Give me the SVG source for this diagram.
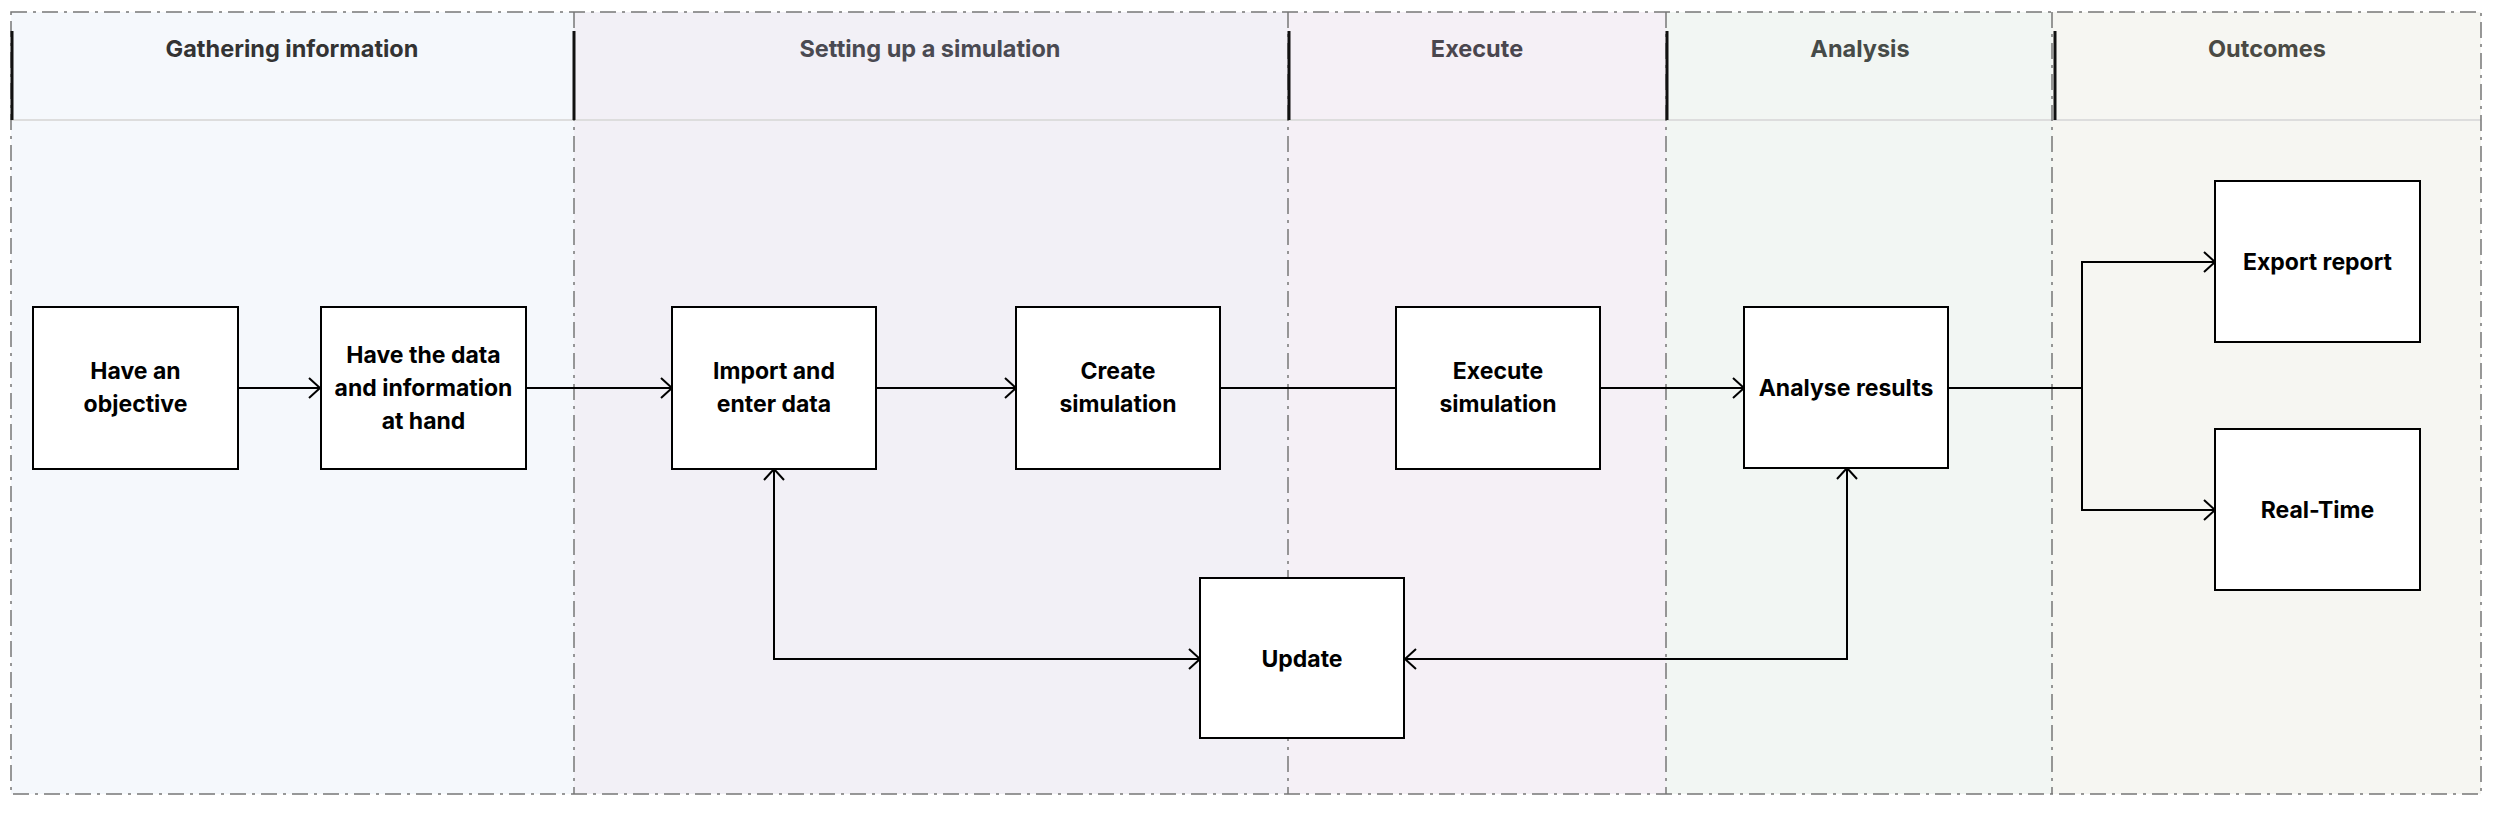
<svg xmlns="http://www.w3.org/2000/svg" width="2500" height="814" viewBox="0 0 2500 814">
<defs>
<style>
.lane-h{font-family:Inter,"Open Sans","Liberation Sans",sans-serif;font-size:23.5px;font-weight:700;text-anchor:middle;dominant-baseline:central}
.box{fill:#fff;stroke:#000;stroke-width:2}
.lbl{font-family:Inter,"Open Sans","Liberation Sans",sans-serif;font-size:23px;font-weight:700;fill:#000;text-anchor:middle;dominant-baseline:central}
.div{stroke:#777;stroke-width:1.5;fill:none;stroke-dasharray:16 6 3 6}
.bar{stroke:#111;stroke-width:3}
.conn{stroke:#000;stroke-width:2;fill:none}
</style>
<marker id="arr" markerUnits="userSpaceOnUse" markerWidth="16" markerHeight="22" refX="13" refY="11" orient="auto-start-reverse">
<path d="M2,1 L13,11 L2,21" fill="none" stroke="#000" stroke-width="2"/>
</marker>
</defs>
<rect width="2500" height="814" fill="#fff"/>
<g id="lanes">
<rect x="11" y="12" width="563" height="782" fill="#f5f8fc"/>
<rect x="574" y="12" width="714" height="782" fill="#f2f0f6"/>
<rect x="1288" y="12" width="378" height="782" fill="#f5f0f6"/>
<rect x="1666" y="12" width="386" height="782" fill="#f2f6f3"/>
<rect x="2052" y="12" width="429" height="782" fill="#f6f6f2"/>
<line x1="11" y1="120" x2="2481" y2="120" stroke="#dddddd" stroke-width="2"/>
<line class="div" x1="574" y1="12" x2="574" y2="794"/>
<line class="div" x1="1288" y1="12" x2="1288" y2="794"/>
<line class="div" x1="1666" y1="12" x2="1666" y2="794"/>
<line class="div" x1="2052" y1="12" x2="2052" y2="794"/>
<rect class="div" x="11" y="12" width="2470" height="782"/>
<line class="bar" x1="12" y1="31" x2="12" y2="120"/>
<line class="bar" x1="574" y1="31" x2="574" y2="120"/>
<line class="bar" x1="1289" y1="31" x2="1289" y2="120"/>
<line class="bar" x1="1667" y1="31" x2="1667" y2="120"/>
<line class="bar" x1="2055" y1="31" x2="2055" y2="120"/>
<text class="lane-h" x="292" y="48" fill="#333">Gathering information</text>
<text class="lane-h" x="930" y="48" fill="#4a4a52">Setting up a simulation</text>
<text class="lane-h" x="1477" y="48" fill="#4a464e">Execute</text>
<text class="lane-h" x="1860" y="48" fill="#464b48">Analysis</text>
<text class="lane-h" x="2267" y="48" fill="#4a4a44">Outcomes</text>
</g>
<g id="connectors">
<line class="conn" x1="239" y1="388" x2="320" y2="388" marker-end="url(#arr)"/>
<line class="conn" x1="526" y1="388" x2="672" y2="388" marker-end="url(#arr)"/>
<line class="conn" x1="876" y1="388" x2="1016" y2="388" marker-end="url(#arr)"/>
<line class="conn" x1="1220" y1="388" x2="1396" y2="388"/>
<line class="conn" x1="1600" y1="388" x2="1744" y2="388" marker-end="url(#arr)"/>
<polyline class="conn" points="1948,388 2082,388 2082,262 2215,262" marker-end="url(#arr)"/>
<polyline class="conn" points="2082,388 2082,510 2215,510" marker-end="url(#arr)"/>
<polyline class="conn" points="774,469 774,659 1200,659" marker-start="url(#arr)" marker-end="url(#arr)"/>
<polyline class="conn" points="1847,468 1847,659 1405,659" marker-start="url(#arr)" marker-end="url(#arr)"/>
</g>
<g id="n-objective">
<rect class="box" x="33" y="307" width="205" height="162"/>
<text class="lbl" x="135.5" y="371">Have an</text>
<text class="lbl" x="135.5" y="404">objective</text>
</g>
<g id="n-data">
<rect class="box" x="321" y="307" width="205" height="162"/>
<text class="lbl" x="423.5" y="355">Have the data</text>
<text class="lbl" x="423.5" y="388">and information</text>
<text class="lbl" x="423.5" y="421">at hand</text>
</g>
<g id="n-import">
<rect class="box" x="672" y="307" width="204" height="162"/>
<text class="lbl" x="774" y="371">Import and</text>
<text class="lbl" x="774" y="404">enter data</text>
</g>
<g id="n-create">
<rect class="box" x="1016" y="307" width="204" height="162"/>
<text class="lbl" x="1118" y="371">Create</text>
<text class="lbl" x="1118" y="404">simulation</text>
</g>
<g id="n-execute">
<rect class="box" x="1396" y="307" width="204" height="162"/>
<text class="lbl" x="1498" y="371">Execute</text>
<text class="lbl" x="1498" y="404">simulation</text>
</g>
<g id="n-analyse">
<rect class="box" x="1744" y="307" width="204" height="161"/>
<text class="lbl" x="1846" y="388">Analyse results</text>
</g>
<g id="n-export">
<rect class="box" x="2215" y="181" width="205" height="161"/>
<text class="lbl" x="2317.5" y="262">Export report</text>
</g>
<g id="n-realtime">
<rect class="box" x="2215" y="429" width="205" height="161"/>
<text class="lbl" x="2317.5" y="510">Real-Time</text>
</g>
<g id="n-update">
<rect class="box" x="1200" y="578" width="204" height="160"/>
<text class="lbl" x="1302" y="659">Update</text>
</g>
</svg>
